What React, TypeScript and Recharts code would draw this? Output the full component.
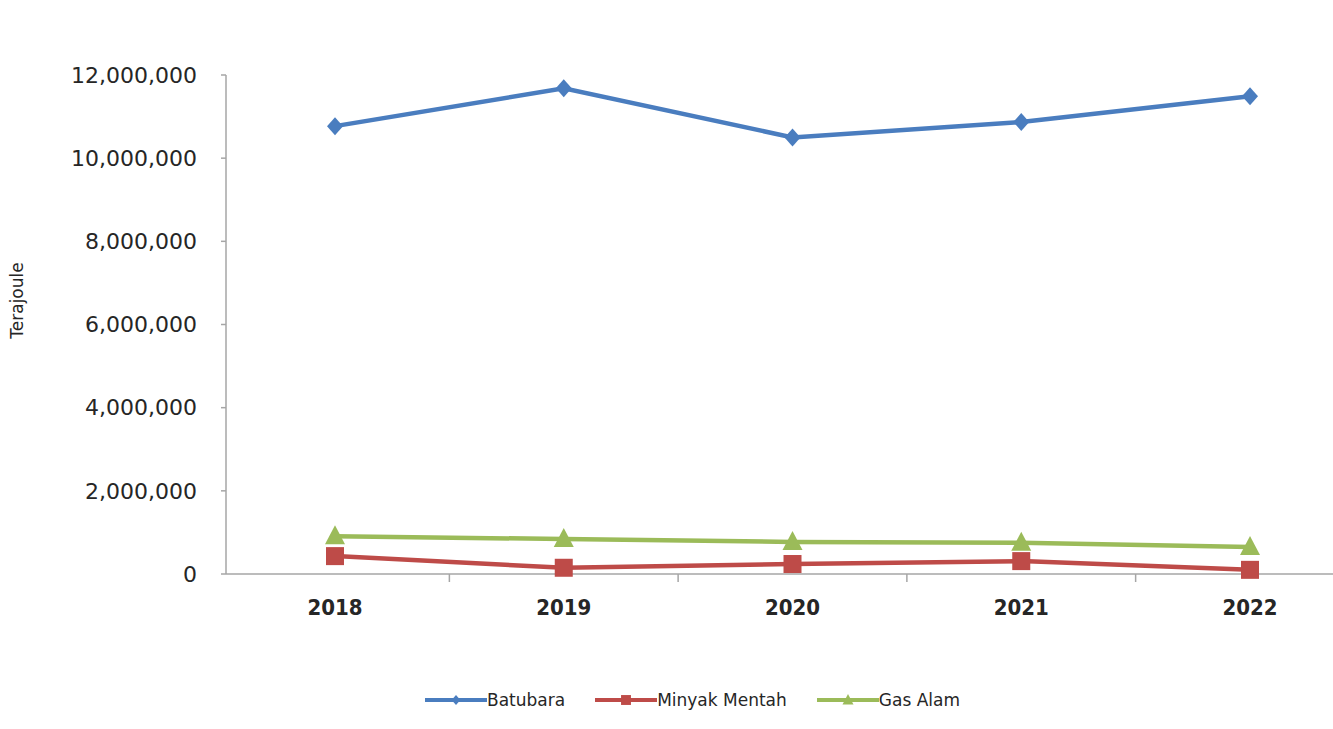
import React from 'react';
import { LineChart, Line, XAxis, YAxis } from 'recharts';

const years = [2018, 2019, 2020, 2021, 2022];
const batubara = [10770000, 11680000, 10500000, 10870000, 11490000];
const minyakMentah = [430000, 150000, 240000, 310000, 100000];
const gasAlam = [910000, 840000, 770000, 750000, 650000];
const yTicks = [0, 2000000, 4000000, 6000000, 8000000, 10000000, 12000000];
// tick marks sit between the categories, like the original
const xBoundaries = [2018.5, 2019.5, 2020.5, 2021.5];

const BLUE = '#4a7dbf';
const RED = '#be4b48';
const GREEN = '#9bbb59';

const data = years.map((y, i) => ({
  year: y,
  Batubara: batubara[i],
  'Minyak Mentah': minyakMentah[i],
  'Gas Alam': gasAlam[i],
}));

const Diamond = ({ cx, cy, s = 1 }: any) => (
  <path d={`M${cx},${cy - 9 * s} L${cx + 8 * s},${cy} L${cx},${cy + 9 * s} L${cx - 8 * s},${cy} Z`} fill={BLUE} />
);
const Square = ({ cx, cy, s = 1 }: any) => (
  <rect x={cx - 9 * s} y={cy - 9 * s} width={18 * s} height={18 * s} fill={RED} />
);
const Triangle = ({ cx, cy, s = 1 }: any) => (
  <path d={`M${cx},${cy - 11 * s} L${cx + 10 * s},${cy + 8 * s} L${cx - 10 * s},${cy + 8 * s} Z`} fill={GREEN} />
);

const XTick = (props: any) => {
  const { x, y, payload } = props;
  if (Number.isInteger(payload.value)) {
    return (
      <text x={x} y={y + 33} textAnchor="middle" dy="0.355em" fill="#262626"
        fontFamily="'DejaVu Sans Condensed', 'DejaVu Sans'" fontWeight="bold" fontSize={22}>
        {payload.value}
      </text>
    );
  }
  return <line x1={x} x2={x} y1={y} y2={y + 8} stroke="#a6a6a6" strokeWidth={1.5} />;
};

const legendItems = [
  { name: 'Batubara', color: BLUE, Marker: Diamond },
  { name: 'Minyak Mentah', color: RED, Marker: Square },
  { name: 'Gas Alam', color: GREEN, Marker: Triangle },
];

const App: React.FC = () => {
  return (
    <div style={{ position: 'fixed', left: 0, top: 0, width: 1333, height: 729, background: '#fff', overflow: 'hidden' }}>
      <LineChart width={1333} height={729} data={data} margin={{ top: 75, right: 0, left: 0, bottom: 95 }}>
        <XAxis
          dataKey="year"
          type="number"
          domain={[2017.5235, 2022.3628]}
          allowDataOverflow
          ticks={[...years, ...xBoundaries]}
          interval={0}
          tick={<XTick />}
          tickLine={false}
          tickSize={0}
          tickMargin={0}
          height={60}
          axisLine={{ stroke: '#a6a6a6', strokeWidth: 1.5 }}
        />
        <YAxis
          width={226}
          domain={[0, 12000000]}
          ticks={yTicks}
          interval={0}
          tickFormatter={(v: number) => v.toLocaleString('en-US')}
          tick={{ fill: '#262626', fontSize: 22, fontFamily: "'DejaVu Sans'" }}
          tickSize={5}
          tickMargin={24}
          tickLine={{ stroke: '#a6a6a6', strokeWidth: 1.5 }}
          axisLine={{ stroke: '#a6a6a6', strokeWidth: 1.5 }}
          label={{
            content: ({ viewBox }: any) => {
              const cx = viewBox.x + 17;
              const cy = viewBox.y + viewBox.height / 2 - 24;
              return (
                <text x={cx} y={cy} transform={`rotate(-90 ${cx} ${cy})`} textAnchor="middle" dy="0.355em"
                  fontFamily="'DejaVu Sans'" fontSize={17} fill="#262626">
                  Terajoule
                </text>
              );
            },
          }}
        />
        <Line dataKey="Batubara" stroke={BLUE} strokeWidth={4.5} isAnimationActive={false}
          dot={(p: any) => <Diamond key={`b${p.index}`} cx={p.cx} cy={p.cy} />} />
        <Line dataKey="Minyak Mentah" stroke={RED} strokeWidth={4.5} isAnimationActive={false}
          dot={(p: any) => <Square key={`m${p.index}`} cx={p.cx} cy={p.cy} />} />
        <Line dataKey="Gas Alam" stroke={GREEN} strokeWidth={4.5} isAnimationActive={false}
          dot={(p: any) => <Triangle key={`g${p.index}`} cx={p.cx} cy={p.cy} />} />
      </LineChart>
      <div style={{ position: 'absolute', left: 425, top: 690, display: 'flex', alignItems: 'center',
        fontFamily: "'DejaVu Sans'", fontSize: 17, color: '#262626' }}>
        {legendItems.map(({ name, color, Marker }) => (
          <div key={name} style={{ display: 'flex', alignItems: 'center', marginRight: 30 }}>
            <svg width={62} height={20}>
              <line x1={0} x2={62} y1={10} y2={10} stroke={color} strokeWidth={4} />
              <Marker cx={31} cy={10} s={0.55} />
            </svg>
            <span>{name}</span>
          </div>
        ))}
      </div>
    </div>
  );
};

export default App;
